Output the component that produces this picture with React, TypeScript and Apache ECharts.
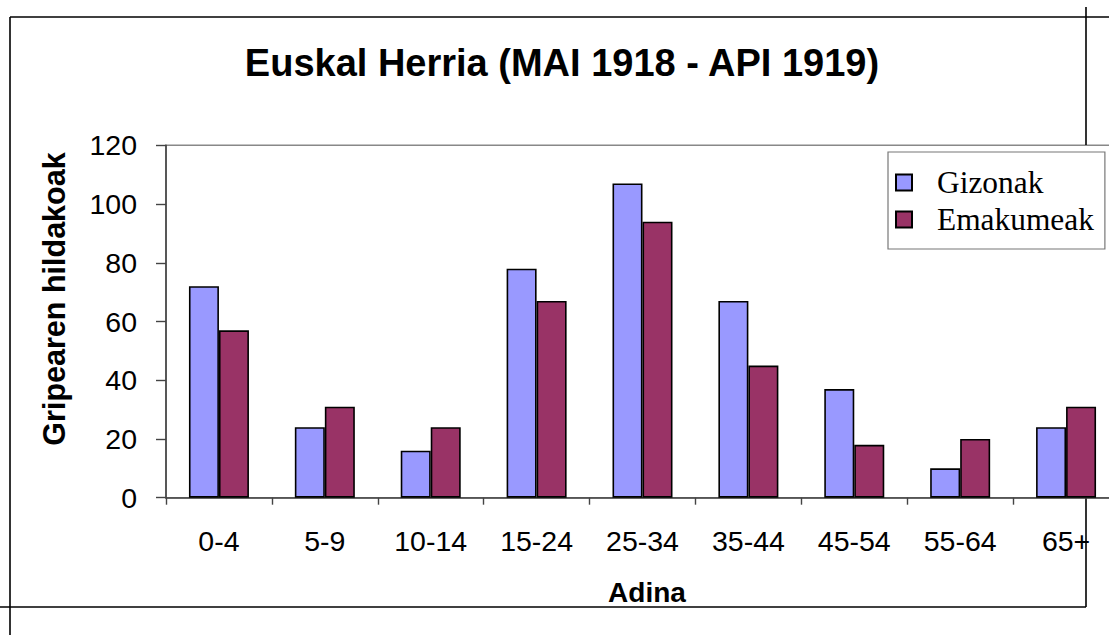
import React, { useEffect, useRef } from "react";
import * as echarts from "echarts";

const titleText = "Euskal Herria (MAI 1918 - API 1919)";
const categories = ["0-4", "5-9", "10-14", "15-24", "25-34", "35-44", "45-54", "55-64", "65+"];
const gizonak = [72, 24, 16, 78, 107, 67, 37, 10, 24];
const emakumeak = [57, 31, 24, 67, 94, 45, 18, 20, 31];
const seriesNames = ["Gizonak", "Emakumeak"];
const yAxisName = "Gripearen hildakoak";
const xAxisName = "Adina";

const SANS = "'Liberation Sans', Arial, sans-serif";
const SERIF = "'Liberation Serif', 'Times New Roman', serif";

export default function App() {
  const ref = useRef<HTMLDivElement>(null);
  useEffect(() => {
    if (!ref.current) return;
    const chart = echarts.init(ref.current, undefined, { renderer: "svg" });
    const frame = { stroke: "#000", lineWidth: 1.6 };
    chart.setOption({
      animation: false,
      backgroundColor: "#fff",
      title: {
        text: titleText,
        left: 562,
        textAlign: "center",
        top: 44,
        padding: 0,
        textStyle: { fontFamily: SANS, fontWeight: "bold", fontSize: 38, color: "#000" },
      },
      graphic: [
        { type: "line", shape: { x1: 10, y1: 17, x2: 1109, y2: 17 }, style: frame, silent: true },
        { type: "line", shape: { x1: 10, y1: 17, x2: 10, y2: 635 }, style: frame, silent: true },
        { type: "line", shape: { x1: 0, y1: 607, x2: 1086, y2: 607 }, style: frame, silent: true },
        { type: "line", shape: { x1: 1086, y1: 7, x2: 1086, y2: 145 }, style: frame, silent: true },
        { type: "line", shape: { x1: 1086, y1: 498, x2: 1086, y2: 607 }, style: frame, silent: true },
        {
          type: "text",
          x: 54,
          y: 299,
          rotation: Math.PI / 2,
          silent: true,
          style: {
            text: yAxisName,
            fill: "#000",
            font: "bold 30.5px " + SANS,
            textAlign: "center",
            textVerticalAlign: "middle",
          },
        },
        {
          type: "text",
          x: 647,
          y: 592,
          silent: true,
          style: {
            text: xAxisName,
            fill: "#000",
            font: "bold 28px " + SANS,
            textAlign: "center",
            textVerticalAlign: "middle",
          },
        },
      ],
      legend: {
        data: seriesNames,
        orient: "vertical",
        left: 888,
        top: 152,
        padding: [13, 11, 12, 7],
        itemGap: 2,
        itemWidth: 16,
        itemHeight: 16,
        icon: "rect",
        backgroundColor: "#fff",
        borderColor: "#777",
        borderWidth: 1.2,
        textStyle: {
          fontFamily: SERIF,
          fontSize: 31.4,
          color: "#000",
          lineHeight: 35,
          padding: [0, 0, 0, 20],
        },
      },
      grid: {
        left: 166,
        top: 145.3,
        bottom: 137.3,
        right: 11,
        show: true,
        backgroundColor: "#fff",
        borderColor: "#888",
        borderWidth: 1.5,
      },
      xAxis: {
        type: "category",
        data: categories,
        boundaryGap: true,
        axisLine: { show: true, lineStyle: { color: "#444", width: 1.6 } },
        axisTick: { show: true, length: 7, interval: 0, lineStyle: { color: "#444", width: 1.4 } },
        axisLabel: { fontFamily: SANS, fontSize: 28.5, color: "#000", margin: 29, interval: 0 },
        splitLine: { show: false },
      },
      yAxis: {
        type: "value",
        min: 0,
        max: 120,
        interval: 20,
        axisLine: { show: true, lineStyle: { color: "#444", width: 1.6 } },
        axisTick: { show: true, length: 10, lineStyle: { color: "#444", width: 1.4 } },
        axisLabel: { fontFamily: SANS, fontSize: 28.5, color: "#000", margin: 29 },
        splitLine: { show: false },
      },
      series: [
        {
          name: seriesNames[0],
          type: "bar",
          data: gizonak,
          barWidth: 30,
          barGap: "0%",
          itemStyle: { color: "#9999FF", borderColor: "#000", borderWidth: 1.6 },
        },
        {
          name: seriesNames[1],
          type: "bar",
          data: emakumeak,
          barWidth: 30,
          barGap: "0%",
          itemStyle: { color: "#993366", borderColor: "#000", borderWidth: 1.6 },
        },
      ],
    });
    return () => chart.dispose();
  }, []);
  return (
    <div
      style={{
        position: "fixed",
        left: 0,
        top: 0,
        width: 1109,
        height: 635,
        overflow: "hidden",
        background: "#fff",
      }}
    >
      <div ref={ref} style={{ width: 1130, height: 635 }} />
    </div>
  );
}
